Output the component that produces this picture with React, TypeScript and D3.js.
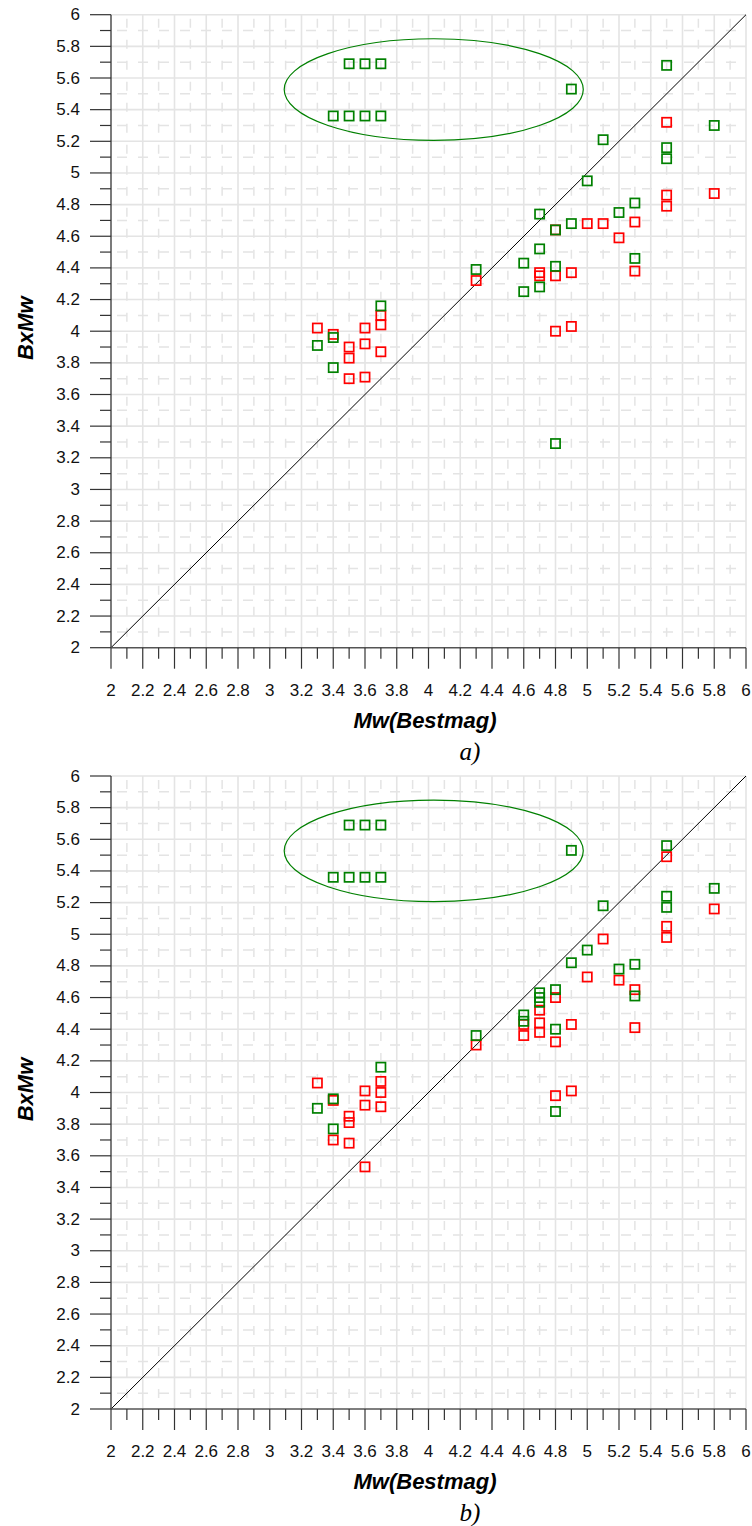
import React from 'react';
import * as d3 from 'd3';

// Tick labels (shared by both axes of both panels)
const tickLabels = ['2', '2.2', '2.4', '2.6', '2.8', '3', '3.2', '3.4', '3.6', '3.8', '4', '4.2', '4.4', '4.6', '4.8', '5', '5.2', '5.4', '5.6', '5.8', '6'];

// Panel a) — green series
const aGreenX = [3.5, 3.6, 3.7, 3.4, 3.5, 3.6, 3.7, 4.9, 5.5, 5.8, 5.1, 5.5, 5.5, 5.0, 5.3, 5.2, 4.7, 4.8, 4.9, 4.7, 4.6, 4.8, 4.3, 5.3, 4.6, 4.7, 3.7, 3.4, 3.3, 3.4, 4.8];
const aGreenY = [5.69, 5.69, 5.69, 5.36, 5.36, 5.36, 5.36, 5.53, 5.68, 5.30, 5.21, 5.16, 5.09, 4.95, 4.81, 4.75, 4.74, 4.64, 4.68, 4.52, 4.43, 4.41, 4.39, 4.46, 4.25, 4.28, 4.16, 3.96, 3.91, 3.77, 3.29];
// Panel a) — red series
const aRedX = [5.5, 5.5, 5.5, 5.8, 5.0, 5.1, 5.3, 5.2, 4.8, 4.7, 4.7, 4.8, 4.9, 5.3, 4.3, 4.8, 4.9, 3.3, 3.4, 3.5, 3.5, 3.5, 3.6, 3.6, 3.6, 3.7, 3.7, 3.7];
const aRedY = [5.32, 4.86, 4.79, 4.87, 4.68, 4.68, 4.69, 4.59, 4.64, 4.37, 4.35, 4.35, 4.37, 4.38, 4.32, 4.00, 4.03, 4.02, 3.98, 3.90, 3.83, 3.70, 4.02, 3.92, 3.71, 4.10, 4.04, 3.87];

// Panel b) — green series
const bGreenX = [3.5, 3.6, 3.7, 3.4, 3.5, 3.6, 3.7, 4.9, 5.5, 5.8, 5.5, 5.5, 5.1, 5.0, 4.9, 5.3, 5.2, 5.3, 4.7, 4.7, 4.7, 4.8, 4.8, 4.8, 4.6, 4.6, 4.3, 3.7, 3.3, 3.4, 3.4];
const bGreenY = [5.69, 5.69, 5.69, 5.36, 5.36, 5.36, 5.36, 5.53, 5.56, 5.29, 5.24, 5.17, 5.18, 4.90, 4.82, 4.81, 4.78, 4.61, 4.63, 4.60, 4.57, 4.65, 4.40, 3.88, 4.49, 4.45, 4.36, 4.16, 3.90, 3.96, 3.77];
// Panel b) — red series
const bRedX = [5.5, 5.8, 5.5, 5.5, 5.1, 5.0, 5.2, 5.3, 5.3, 4.7, 4.7, 4.7, 4.8, 4.8, 4.8, 4.9, 4.9, 4.6, 4.6, 4.3, 3.3, 3.4, 3.4, 3.5, 3.5, 3.5, 3.6, 3.6, 3.6, 3.7, 3.7, 3.7];
const bRedY = [5.49, 5.16, 5.05, 4.98, 4.97, 4.73, 4.71, 4.65, 4.41, 4.52, 4.44, 4.38, 4.60, 4.32, 3.98, 4.43, 4.01, 4.43, 4.36, 4.30, 4.06, 3.95, 3.70, 3.85, 3.81, 3.68, 4.01, 3.92, 3.53, 4.07, 4.00, 3.91];

// Highlight ellipse (data units)
const ellipseCenter = [4.033, 5.527];
const ellipseRadii = [0.942, 0.321];

const GREEN = '#008000';
const RED = '#ff0000';
const GRID = '#e4e4e4';

type PanelProps = {
  top: number;
  bottom: number;
  greenX: number[];
  greenY: number[];
  redX: number[];
  redY: number[];
  tag: string;
};

function Panel({ top, bottom, greenX, greenY, redX, redY, tag }: PanelProps) {
  const x = d3.scaleLinear().domain([2, 6]).range([111, 746]);
  const y = d3.scaleLinear().domain([2, 6]).range([bottom, top]);
  const steps = d3.range(0, 41); // 0.1 steps
  const val = (i: number) => 2 + i * 0.1;
  const majorIdx = steps.filter((i) => i % 2 === 0);
  const minorIdx = steps.filter((i) => i % 2 === 1);
  const sq = 9.2;

  const [ecx, ecy] = ellipseCenter;
  const [erx, ery] = ellipseRadii;

  const squares = (xs: number[], ys: number[], color: string) =>
    xs.map((v, i) => (
      <rect
        key={color + i}
        x={x(v) - sq / 2}
        y={y(ys[i]) - sq / 2}
        width={sq}
        height={sq}
        fill="none"
        stroke={color}
        strokeWidth={1.7}
      />
    ));

  return (
    <g>
      {/* minor dashed grid */}
      {minorIdx.map((i) => (
        <line key={'mv' + i} x1={x(val(i))} x2={x(val(i))} y1={y(6)} y2={y(2)} stroke={GRID} strokeWidth={1.5} strokeDasharray="9 12" strokeDashoffset={-4} />
      ))}
      {minorIdx.map((i) => (
        <line key={'mh' + i} x1={x(2)} x2={x(6)} y1={y(val(i))} y2={y(val(i))} stroke={GRID} strokeWidth={1.5} strokeDasharray="10 11" strokeDashoffset={-6} />
      ))}
      {/* major grid */}
      {majorIdx.filter((i) => i > 0).map((i) => (
        <line key={'gv' + i} x1={x(val(i))} x2={x(val(i))} y1={y(6)} y2={y(2)} stroke={GRID} strokeWidth={1.6} />
      ))}
      {majorIdx.filter((i) => i > 0).map((i) => (
        <line key={'gh' + i} x1={x(2)} x2={x(6)} y1={y(val(i))} y2={y(val(i))} stroke={GRID} strokeWidth={1.6} />
      ))}

      {/* ellipse */}
      <ellipse
        cx={x(ecx)}
        cy={y(ecy)}
        rx={x(ecx + erx) - x(ecx)}
        ry={y(ecy - ery) - y(ecy)}
        fill="none"
        stroke={GREEN}
        strokeWidth={1.2}
      />

      {/* 1:1 line */}
      <line x1={x(2)} y1={y(2)} x2={x(6)} y2={y(6)} stroke="#000" strokeWidth={1} />

      {/* points */}
      {squares(redX, redY, RED)}
      {squares(greenX, greenY, GREEN)}

      {/* axes */}
      <line x1={x(2)} x2={x(2)} y1={y(6)} y2={y(2)} stroke="#222" strokeWidth={1.2} />
      <line x1={x(2)} x2={x(6)} y1={y(2)} y2={y(2)} stroke="#555" strokeWidth={1.6} />
      {steps.map((i) => {
        const len = i % 2 === 0 ? 21 : 11;
        return (
          <g key={'t' + i}>
            <line x1={x(2) - len} x2={x(2)} y1={y(val(i))} y2={y(val(i))} stroke="#333" strokeWidth={1.2} />
            <line x1={x(val(i))} x2={x(val(i))} y1={y(2)} y2={y(2) + len} stroke="#333" strokeWidth={1.2} />
          </g>
        );
      })}
      {majorIdx.map((i) => (
        <text key={'yl' + i} x={80} y={y(val(i))} textAnchor="end" dominantBaseline="central" fontFamily="'Liberation Sans', Arial, sans-serif" fontSize={17} fill="#111">
          {tickLabels[i / 2]}
        </text>
      ))}
      {majorIdx.map((i) => (
        <text key={'xl' + i} x={x(val(i))} y={y(2) + 48} textAnchor="middle" fontFamily="'Liberation Sans', Arial, sans-serif" fontSize={17} fill="#111">
          {tickLabels[i / 2]}
        </text>
      ))}

      {/* titles */}
      <text x={425} y={y(2) + 80} textAnchor="middle" fontFamily="'Liberation Sans', Arial, sans-serif" fontSize={22} fontWeight="bold" fontStyle="italic" fill="#000">
        Mw(Bestmag)
      </text>
      <text
        transform={`translate(33, ${(top + bottom) / 2 - 3}) rotate(-90)`}
        textAnchor="middle"
        fontFamily="'Liberation Sans', Arial, sans-serif"
        fontSize={22}
        fontWeight="bold"
        fontStyle="italic"
        fill="#000"
      >
        BxMw
      </text>
      <text x={470} y={y(2) + 112} textAnchor="middle" fontFamily="'Liberation Serif', 'Times New Roman', serif" fontSize={25} fontStyle="italic" fill="#000">
        {tag}
      </text>
    </g>
  );
}

export default function App() {
  return (
    <svg
      width={752}
      height={1526}
      style={{ position: 'absolute', left: 0, top: 0, background: '#fff' }}
    >
      <rect x={0} y={0} width={752} height={1526} fill="#fff" />
      <Panel top={14.7} bottom={647.7} greenX={aGreenX} greenY={aGreenY} redX={aRedX} redY={aRedY} tag="a)" />
      <Panel top={776} bottom={1409} greenX={bGreenX} greenY={bGreenY} redX={bRedX} redY={bRedY} tag="b)" />
    </svg>
  );
}
